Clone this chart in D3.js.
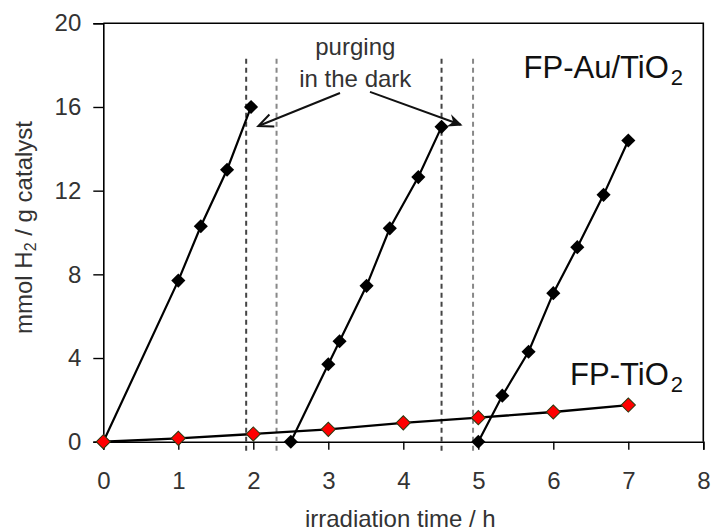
<!DOCTYPE html>
<html>
<head>
<meta charset="utf-8">
<script src="https://cdn.jsdelivr.net/npm/d3@7"></script>
<style>
  html, body { margin: 0; padding: 0; background: #fff; }
  svg { display: block; font-family: Arial, "Liberation Sans", sans-serif; }
</style>
</head>
<body>
<svg id="chart" width="712" height="532"></svg>
<script>
// ---- data ----
const auRun1X = [0, 1, 1.3, 1.65, 1.97];
const auRun1Y = [0, 7.7, 10.3, 13.0, 16.0];
const auRun2X = [2.5, 3.0, 3.15, 3.51, 3.82, 4.2, 4.51];
const auRun2Y = [0, 3.7, 4.8, 7.45, 10.2, 12.65, 15.05];
const auRun3X = [5.0, 5.32, 5.67, 6.0, 6.32, 6.67, 7.0];
const auRun3Y = [0, 2.2, 4.3, 7.1, 9.3, 11.8, 14.4];
const tiX = [0, 1, 2, 3, 4, 5, 6, 7];
const tiY = [0, 0.16, 0.37, 0.59, 0.9, 1.15, 1.42, 1.75];
const purgeLinesX = [1.905, 2.31, 4.51, 4.93];
const xTicks = [0, 1, 2, 3, 4, 5, 6, 7, 8];
const yTicks = [0, 4, 8, 12, 16, 20];

// ---- layout ----
const W = 712, H = 532;
const m = { left: 103.3, right: 8.7, top: 23.3, bottom: 90.3 };
const svg = d3.select("#chart");
const x = d3.scaleLinear().domain([0, 8]).range([m.left, W - m.right]);
const y = d3.scaleLinear().domain([0, 20]).range([H - m.bottom, m.top]);

const textCol = "#333";
const fs = 24;

// frame (top & right)
svg.append("path")
  .attr("d", `M${x(0)},${y(20)}H${x(8)}V${y(0)}`)
  .attr("fill", "none").attr("stroke", "#000").attr("stroke-width", 1.6);

// axes
const gx = svg.append("g").attr("transform", `translate(0,${y(0)})`)
  .call(d3.axisBottom(x).tickValues(xTicks).tickFormat(d3.format("d")).tickSize(8).tickPadding(22));
const gy = svg.append("g").attr("transform", `translate(${x(0)},0)`)
  .call(d3.axisLeft(y).tickValues(yTicks).tickFormat(d3.format("d")).tickSize(10).tickPadding(12));
[gx, gy].forEach(g => {
  g.select(".domain").attr("stroke", "#000").attr("stroke-width", 1.6);
  g.selectAll(".tick line").attr("stroke", "#000").attr("stroke-width", 1.4);
  g.selectAll(".tick text").attr("font-size", fs).attr("fill", textCol)
    .attr("font-family", "Arial, 'Liberation Sans', sans-serif");
});
gx.selectAll(".tick text").attr("dy", "0.71em");

// purging dashed lines
const dashCols = ["#444", "#888", "#444", "#888"];
svg.append("g").selectAll("line").data(purgeLinesX).join("line")
  .attr("x1", d => x(d)).attr("x2", d => x(d))
  .attr("y1", y(18.3)).attr("y2", y(-0.5))
  .attr("stroke", (d, i) => dashCols[i]).attr("stroke-width", 2)
  .attr("stroke-dasharray", "5,4");

// lines
const line = d3.line().x(d => x(d[0])).y(d => y(d[1]));
const zip = (a, b) => a.map((v, i) => [v, b[i]]);
const tiData = zip(tiX, tiY);
const auRuns = [zip(auRun1X, auRun1Y), zip(auRun2X, auRun2Y), zip(auRun3X, auRun3Y)];

svg.append("path").datum(tiData).attr("d", line)
  .attr("fill", "none").attr("stroke", "#000").attr("stroke-width", 2.4);
auRuns.forEach(r => {
  svg.append("path").datum(r).attr("d", line)
    .attr("fill", "none").attr("stroke", "#000").attr("stroke-width", 2.2);
});

// markers (diamonds = rotated squares)
const diamond = d3.symbol().type(d3.symbolSquare).size(100);
auRuns.forEach(r => {
  svg.append("g").selectAll("path").data(r).join("path")
    .attr("d", diamond)
    .attr("transform", d => `translate(${x(d[0])},${y(d[1])}) rotate(45)`)
    .attr("fill", "#000");
});
svg.append("g").selectAll("path").data(tiData).join("path")
  .attr("d", diamond)
  .attr("transform", d => `translate(${x(d[0])},${y(d[1])}) rotate(45)`)
  .attr("fill", "#ff0000").attr("stroke", "#2a3a10").attr("stroke-width", 1);

// annotation text
const ann = svg.append("g").attr("fill", textCol).attr("font-size", fs).attr("text-anchor", "middle");
ann.append("text").attr("x", x(3.36)).attr("y", y(18.48)).text("purging");
ann.append("text").attr("x", x(3.36)).attr("y", y(16.97)).text("in the dark");

// arrows
function arrow(x0, y0, x1, y1, filled) {
  const px0 = x(x0), py0 = y(y0), px1 = x(x1), py1 = y(y1);
  const ang = Math.atan2(py1 - py0, px1 - px0);
  const L = 16, a = 0.42;
  const p1 = [px1 - L * Math.cos(ang - a), py1 - L * Math.sin(ang - a)];
  const p2 = [px1 - L * Math.cos(ang + a), py1 - L * Math.sin(ang + a)];
  svg.append("line").attr("x1", px0).attr("y1", py0).attr("x2", px1 - 2 * Math.cos(ang)).attr("y2", py1 - 2 * Math.sin(ang))
    .attr("stroke", "#111").attr("stroke-width", 2);
  if (filled) {
    const back = [px1 - 10 * Math.cos(ang), py1 - 10 * Math.sin(ang)];
    svg.append("path").attr("d", `M${p1}L${px1},${py1}L${p2}L${back}Z`).attr("fill", "#111");
  } else {
    svg.append("path").attr("d", `M${p1}L${px1},${py1}L${p2}`)
      .attr("fill", "none").attr("stroke", "#111").attr("stroke-width", 2);
  }
}
arrow(3.156, 16.67, 2.067, 15.09, false);
arrow(3.556, 16.72, 4.79, 15.12, true);

// series labels
function seriesLabel(xv, yv, main) {
  const t = svg.append("text").attr("x", x(xv)).attr("y", y(yv))
    .attr("text-anchor", "end").attr("font-size", 31).attr("fill", "#111");
  t.append("tspan").text(main);
  t.append("tspan").attr("font-size", 22).attr("dx", 2).attr("dy", 7).text("2");
}
seriesLabel(7.73, 17.37, "FP-Au/TiO");
seriesLabel(7.73, 2.71, "FP-TiO");

// axis titles
svg.append("text").attr("x", (x(0) + x(8)) / 2 - 3).attr("y", H - 5)
  .attr("text-anchor", "middle").attr("font-size", fs).attr("fill", textCol)
  .text("irradiation time / h");
const yl = svg.append("text").attr("transform", `translate(32,${(y(0) + y(20)) / 2 - 5}) rotate(-90)`)
  .attr("text-anchor", "middle").attr("font-size", fs).attr("fill", textCol);
yl.append("tspan").text("mmol H");
yl.append("tspan").attr("font-size", 16).attr("dy", 4).text("2");
yl.append("tspan").attr("dy", -4).text(" / g catalyst");
</script>
</body>
</html>
